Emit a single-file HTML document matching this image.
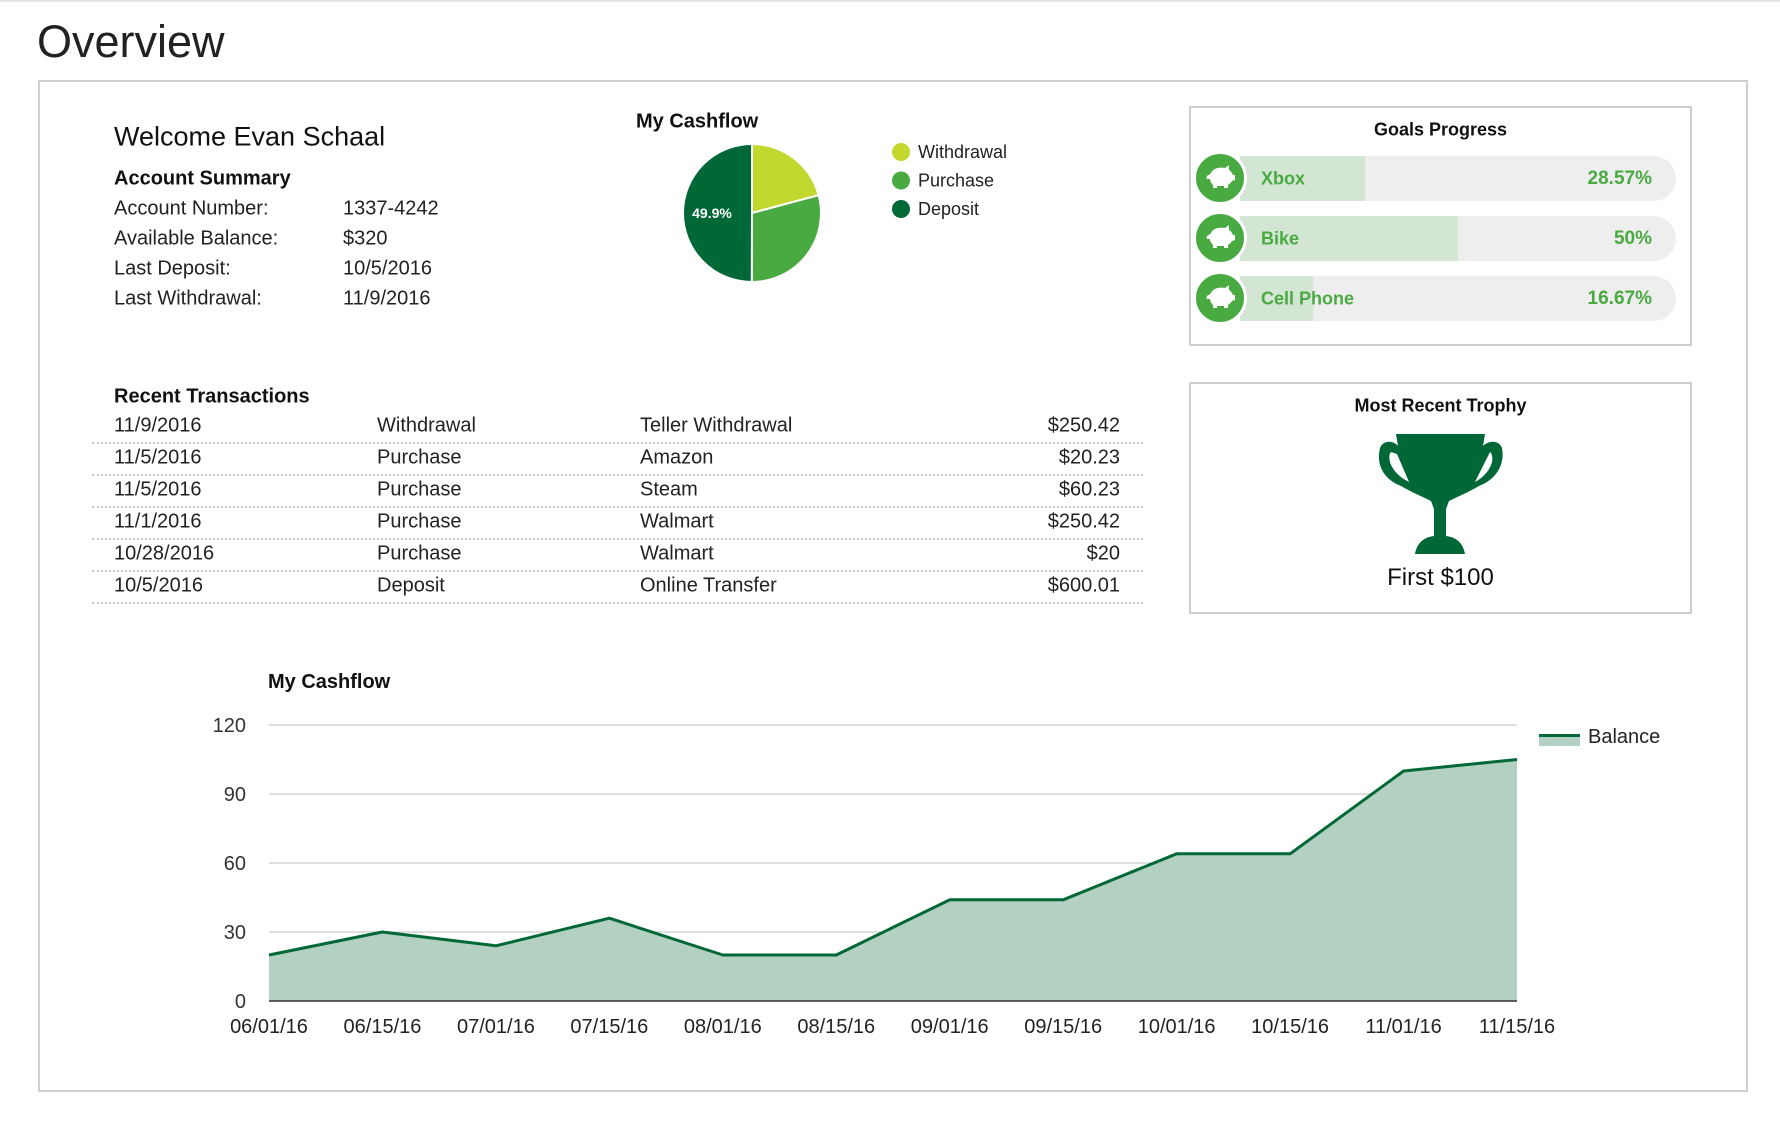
<!DOCTYPE html>
<html><head><meta charset="utf-8">
<style>
*{margin:0;padding:0;box-sizing:border-box}
body{width:1780px;height:1126px;background:#fff;font-family:"Liberation Sans",Arial,sans-serif;color:#222;position:relative;overflow:hidden}
.a{position:absolute;white-space:nowrap}
.t{transform:translateY(-50%)}
.b{font-weight:bold;color:#111}
.row{font-size:20px}
.dot{position:absolute;left:92px;width:1051px;border-top:2px dotted #c8c8c8}
.goal{position:absolute;left:1240px;width:436px;height:45px;background:#eeeeee;border-radius:0 23px 23px 0;overflow:hidden}
.fill{position:absolute;left:0;top:0;height:100%;background:#d3e5d3}
.gl{position:absolute;left:21px;top:50%;transform:translateY(-50%);font-weight:bold;font-size:18px;color:#4aaa42}
.gp{position:absolute;right:24px;top:50%;transform:translateY(-50%);font-weight:bold;font-size:19px;color:#4aaa42}
.ic{position:absolute;left:1193px;width:54px;height:54px;border-radius:50%;background:#4aaa42;border:3px solid #fff}
</style></head><body>
<div class="a" style="left:0;top:0;width:1780px;height:2px;background:#e4e4e4"></div>
<div class="a" style="left:37px;top:16px;font-size:45px;color:#222">Overview</div>
<div class="a" style="left:38px;top:80px;width:1710px;height:1012px;border:2px solid #d0d0d0"></div>

<div class="a t" style="left:114px;top:137px;font-size:27px;color:#111">Welcome Evan Schaal</div>
<div class="a t b" style="left:114px;top:179px;font-size:20px">Account Summary</div>
<div class="a t row" style="left:114px;top:209px">Account Number:</div>
<div class="a t row" style="left:343px;top:209px">1337-4242</div>
<div class="a t row" style="left:114px;top:239px">Available Balance:</div>
<div class="a t row" style="left:343px;top:239px">$320</div>
<div class="a t row" style="left:114px;top:269px">Last Deposit:</div>
<div class="a t row" style="left:343px;top:269px">10/5/2016</div>
<div class="a t row" style="left:114px;top:299px">Last Withdrawal:</div>
<div class="a t row" style="left:343px;top:299px">11/9/2016</div>

<div class="a t b" style="left:636px;top:122px;font-size:20px">My Cashflow</div>
<svg class="a" id="pie" style="left:0;top:0" width="1100" height="320"></svg>

<div class="a" style="left:1189px;top:106px;width:503px;height:240px;border:2px solid #cfcfcf"></div>
<div class="a t b" style="left:1189px;width:503px;text-align:center;top:130px;font-size:18px">Goals Progress</div>
<div id="goals"></div>

<div class="a" style="left:1189px;top:382px;width:503px;height:232px;border:2px solid #cfcfcf"></div>
<div class="a t b" style="left:1189px;width:503px;text-align:center;top:406px;font-size:18px">Most Recent Trophy</div>
<svg class="a" style="left:1379px;top:434px" width="124" height="121" viewBox="0 0 124 121">
<path d="M17 0 H106 L104 12 C110 6 120 6 123 14 C126 30 118 45 100 52 C90 58 80 62 70 67 L67 75 V102 C76 103 84 108 86 120 H36 C38 108 46 103 55 102 V75 L52 67 C42 62 32 58 22 52 C4 45 -3 30 1 14 C4 6 14 6 19 12 Z M12 18 C8 22 10 38 30 48 L18 20 Z M111 18 L96 48 C114 38 116 22 111 18 Z" fill="#006837" fill-rule="evenodd"/>
</svg>
<div class="a t" style="left:1189px;width:503px;text-align:center;top:578px;font-size:24px;color:#111">First $100</div>

<div class="a t b" style="left:114px;top:397px;font-size:20px">Recent Transactions</div>
<div id="tx"></div>

<svg class="a" id="chart" style="left:0;top:640px" width="1780" height="440"></svg>

<script>
// Pie data
const pieLabels=['Withdrawal','Purchase','Deposit'];
const pieValues=[250.42,350.88,600.01];
const pieColors=['#c2d82e','#4aaa42','#006837'];
// Goals data
const goalNames=['Xbox','Bike','Cell Phone'];
const goalPct=[28.57,50,16.67];
// Transactions
const txDates=['11/9/2016','11/5/2016','11/5/2016','11/1/2016','10/28/2016','10/5/2016'];
const txTypes=['Withdrawal','Purchase','Purchase','Purchase','Purchase','Deposit'];
const txDesc=['Teller Withdrawal','Amazon','Steam','Walmart','Walmart','Online Transfer'];
const txAmt=['$250.42','$20.23','$60.23','$250.42','$20','$600.01'];
// Line chart
const xLabels=['06/01/16','06/15/16','07/01/16','07/15/16','08/01/16','08/15/16','09/01/16','09/15/16','10/01/16','10/15/16','11/01/16','11/15/16'];
const balance=[20,30,24,36,20,20,44,44,64,64,100,105];
const yTicks=[0,30,60,90,120];

const NS='http://www.w3.org/2000/svg';
function mk(tag,attrs,parent){const e=document.createElementNS(NS,tag);for(const k in attrs)e.setAttribute(k,attrs[k]);parent.appendChild(e);return e;}

// Pie
(function(){
 const svg=document.getElementById('pie');const cx=752,cy=213,r=69;
 const tot=pieValues.reduce((a,b)=>a+b,0);let a0=0;
 pieValues.forEach((v,i)=>{
  const a1=a0+v/tot*2*Math.PI;
  const x0=cx+r*Math.sin(a0),y0=cy-r*Math.cos(a0),x1=cx+r*Math.sin(a1),y1=cy-r*Math.cos(a1);
  const p=mk('path',{d:`M${cx} ${cy} L${x0} ${y0} A${r} ${r} 0 ${a1-a0>Math.PI?1:0} 1 ${x1} ${y1} Z`,fill:pieColors[i],stroke:'#fff','stroke-width':2},svg);
  
  
  if(v/tot>0.3){const am=(a0+a1)/2;const t=mk('text',{x:cx+r*0.58*Math.sin(am),y:cy-r*0.58*Math.cos(am)+5,'text-anchor':'middle','font-size':14,'font-weight':'bold',fill:'#fff','font-family':'Liberation Sans, sans-serif'},svg);t.textContent=(v/tot*100).toFixed(1)+'%';
   
   }
  a0=a1;
 });
 pieLabels.forEach((l,i)=>{
  const c=mk('circle',{cx:901,cy:152+i*28.5,r:9,fill:pieColors[i]},svg);
  
  
  const t=mk('text',{x:918,y:158+i*28.5,'font-size':18,fill:'#222','font-family':'Liberation Sans, sans-serif'},svg);t.textContent=l;
  
  
 });
})();

// Goals
(function(){
 const g=document.getElementById('goals');
 goalNames.forEach((n,i)=>{
  const cy=178+i*60;
  const bar=document.createElement('div');bar.className='goal';bar.style.top=(cy-22)+'px';
  
  
  bar.innerHTML=`<div class="fill" style="width:${goalPct[i]}%"></div><div class="gl">${n}</div><div class="gp">${goalPct[i]}%</div>`;
  g.appendChild(bar);
  const ic=document.createElement('div');ic.className='ic';ic.style.top=(cy-27)+'px';
  
  
  ic.innerHTML='<svg width="48" height="48" viewBox="0 0 48 48" style="position:absolute;left:0;top:0"><path d="M15 19 C17 14 24 13 29 14 L33 11 L33 16 C35 17 36 19 37 21 L39 21 L39 26 L36 27 C35 29 33 30 32 31 L32 34 L28 34 L28 32 L21 32 L21 34 L17 34 L17 31 C15 29 14 27 14 25 L11 25 C10 23 11 21 13 21 Z" fill="#fff"/></svg>';
  g.appendChild(ic);
 });
})();

// Transactions
(function(){
 const c=document.getElementById('tx');let h='';
 txDates.forEach((d,i)=>{
  const y=426+i*32;
  h+=`<div class="a t row" style="left:114px;top:${y}px">${d}</div>`;
  h+=`<div class="a t row" style="left:377px;top:${y}px">${txTypes[i]}</div>`;
  h+=`<div class="a t row" style="left:640px;top:${y}px">${txDesc[i]}</div>`;
  h+=`<div class="a t row" style="right:${1780-1120}px;top:${y}px">${txAmt[i]}</div>`;
  h+=`<div class="dot" style="top:${y+16}px"></div>`;
 });
 c.innerHTML=h;
})();

// Line chart
(function(){
 const svg=document.getElementById('chart');const oy=640;
 const X0=269,X1=1517,Y0=1001-oy,Y1=725-oy;
 const xs=i=>X0+(X1-X0)*i/(xLabels.length-1);
 const ys=v=>Y0-(Y0-Y1)*v/120;
 const F='Liberation Sans, sans-serif';
 const tt=mk('text',{x:268,y:48,'font-size':20,'font-weight':'bold',fill:'#111','font-family':F},svg);tt.textContent='My Cashflow';
 
 
 yTicks.forEach(v=>{
  const l=mk('line',{x1:X0,x2:X1,y1:ys(v),y2:ys(v),stroke:'#d4d4d4','stroke-width':1.5},svg);
  
  
  const t=mk('text',{x:246,y:ys(v)+7,'text-anchor':'end','font-size':20,fill:'#333','font-family':F},svg);t.textContent=v;
  
  
 });
 let pts=balance.map((v,i)=>xs(i)+','+ys(v)).join(' ');
 const area=mk('polygon',{points:`${xs(0)},${ys(0)} ${pts} ${xs(balance.length-1)},${ys(0)}`,fill:'#b3d1c2'},svg);
 
 
 const ax=mk('line',{x1:X0,x2:X1,y1:ys(0),y2:ys(0),stroke:'#333','stroke-width':1.5},svg);
 
 
 const ln=mk('polyline',{points:pts,fill:'none',stroke:'#006837','stroke-width':3,'stroke-linejoin':'round'},svg);
 
 
 xLabels.forEach((l,i)=>{
  const t=mk('text',{x:xs(i),y:1033-oy,'text-anchor':'middle','font-size':20,fill:'#222','font-family':F},svg);t.textContent=l;
  
  
 });
 const sw=mk('rect',{x:1539,y:734-oy,width:41,height:12,fill:'#b3d1c2'},svg);
 
 
 const sl=mk('line',{x1:1539,x2:1580,y1:735.5-oy,y2:735.5-oy,stroke:'#006837','stroke-width':3},svg);
 
 
 const lt=mk('text',{x:1588,y:743-oy,'font-size':20,fill:'#222','font-family':F},svg);lt.textContent='Balance';
 
 
})();
</script>
</body></html>
